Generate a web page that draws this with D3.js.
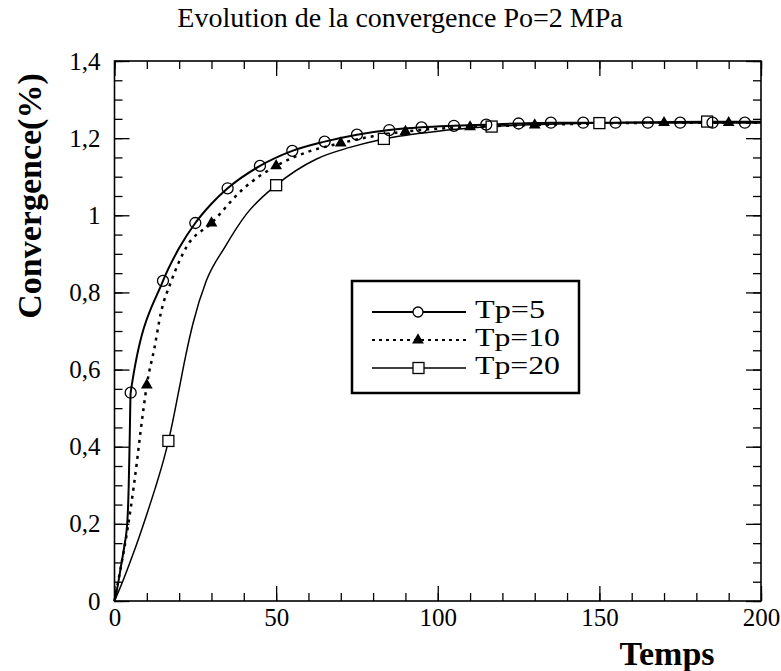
<!DOCTYPE html>
<html>
<head>
<meta charset="utf-8">
<script src="https://cdn.jsdelivr.net/npm/d3@7"></script>
<style>
  html, body { margin: 0; padding: 0; background: #fff; }
  svg text { font-family: "Liberation Serif", "Times New Roman", serif !important; fill: #000; }
</style>
</head>
<body>
<svg id="chart" width="781" height="671"></svg>
<script>
// ---- Data ----
const xTicksMajor = [0, 50, 100, 150, 200];
const yTicksMajor = [0, 0.2, 0.4, 0.6, 0.8, 1, 1.2, 1.4];

// Tp=5 continuous curve and its circle markers
const tp5LineX = [0, 1, 2, 3, 4, 4.4, 4.7, 5, 15, 20, 25, 30, 35, 45, 55, 65, 75, 85, 95, 105, 115, 125, 135, 145, 155, 165, 175, 185, 195, 200];
const tp5LineY = [0, 0.04, 0.09, 0.14, 0.21, 0.3, 0.42, 0.54, 0.83, 0.915, 0.98, 1.03, 1.07, 1.128, 1.167, 1.191, 1.209, 1.221, 1.228, 1.232, 1.235, 1.238, 1.24, 1.24, 1.24, 1.24, 1.24, 1.24, 1.24, 1.24];
const tp5MarkX = [5, 15, 25, 35, 45, 55, 65, 75, 85, 95, 105, 115, 125, 135, 145, 155, 165, 175, 185, 195];
const tp5MarkY = [0.54, 0.83, 0.98, 1.07, 1.128, 1.167, 1.191, 1.209, 1.221, 1.228, 1.232, 1.235, 1.238, 1.24, 1.24, 1.24, 1.24, 1.24, 1.24, 1.24];

// Tp=10 dotted curve and its triangle markers
const tp10LineX = [0, 1, 2, 3, 4, 5, 6, 7, 8, 9, 10, 12.4, 14.3, 17.6, 22.2, 30, 40, 50, 60, 70, 80, 90, 110, 130, 150, 170, 190, 200];
const tp10LineY = [0, 0.045, 0.09, 0.135, 0.185, 0.24, 0.3, 0.365, 0.435, 0.5, 0.56, 0.658, 0.745, 0.83, 0.917, 0.98, 1.07, 1.128, 1.165, 1.187, 1.205, 1.217, 1.229, 1.234, 1.238, 1.24, 1.24, 1.24];
const tp10MarkX = [10, 30, 50, 70, 90, 110, 130, 150, 170, 190];
const tp10MarkY = [0.56, 0.98, 1.128, 1.187, 1.217, 1.229, 1.234, 1.238, 1.24, 1.24];

// Tp=20 continuous curve and its square markers
const tp20LineX = [0, 2.5, 5, 7.5, 10, 12.5, 15, 16.7, 18, 20, 22, 24.3, 28.4, 34.1, 40.8, 50, 62.5, 72.8, 83.3, 100, 116.7, 150, 183.3, 200];
const tp20LineY = [0, 0.05, 0.105, 0.163, 0.225, 0.29, 0.36, 0.415, 0.465, 0.55, 0.635, 0.72, 0.83, 0.917, 1.003, 1.078, 1.146, 1.176, 1.198, 1.218, 1.23, 1.239, 1.243, 1.243];
const tp20MarkX = [16.67, 50, 83.33, 116.67, 150, 183.33];
const tp20MarkY = [0.415, 1.078, 1.198, 1.23, 1.239, 1.243];

const legendLabels = ["Tp=5", "Tp=10", "Tp=20"];

// ---- Chart ----
const svg = d3.select("#chart");
const serif = "'Liberation Serif', 'Times New Roman', serif";
const pLeft = 114.5, pRight = 761, pTop = 61, pBottom = 601;
const x = d3.scaleLinear().domain([0, 200]).range([pLeft, pRight]);
const y = d3.scaleLinear().domain([0, 1.4]).range([pBottom, pTop]);

const zip = (xs, ys) => xs.map((v, i) => [v, ys[i]]);
const fmtY = d => d === 0 ? "0" : (d === 1 ? "1" : d3.format(".1f")(d).replace(".", ","));

// minor and major ticks on all four sides (inward)
function addAxis(axisFn, vals, size, transform, fmt) {
  const g = svg.append("g").attr("transform", transform)
    .call(axisFn.tickValues(vals).tickSizeInner(-size).tickSizeOuter(0).tickPadding(6).tickFormat(fmt || (() => "")));
  g.attr("font-family", serif);
  g.select(".domain").remove();
  g.selectAll(".tick line").attr("stroke", "#000").attr("stroke-width", 1.3);
  g.selectAll("text").style("font-family", serif);
  return g;
}
const xMinor = d3.range(0, 201, 10);
const yMinor = d3.range(0, 1.401, 0.05).map(v => +v.toFixed(2));

addAxis(d3.axisBottom(x), xMinor, 8, `translate(0,${pBottom})`);
const gxb = addAxis(d3.axisBottom(x), xTicksMajor, 15, `translate(0,${pBottom})`, d => String(d));
gxb.selectAll("text").attr("font-size", 25).attr("dy", "0.75em");
addAxis(d3.axisTop(x), xMinor, 8, `translate(0,${pTop})`);
addAxis(d3.axisTop(x), xTicksMajor, 15, `translate(0,${pTop})`);

addAxis(d3.axisLeft(y), yMinor, 8, `translate(${pLeft},0)`);
const gyl = addAxis(d3.axisLeft(y), yTicksMajor, 15, `translate(${pLeft},0)`, fmtY);
gyl.selectAll("text").attr("font-size", 25).attr("x", -14);
addAxis(d3.axisRight(y), yMinor, 8, `translate(${pRight},0)`);
addAxis(d3.axisRight(y), yTicksMajor, 15, `translate(${pRight},0)`);

// frame
svg.append("rect").attr("x", pLeft).attr("y", pTop).attr("width", pRight - pLeft).attr("height", pBottom - pTop)
  .attr("fill", "none").attr("stroke", "#000").attr("stroke-width", 1.6);

// curves
const line = d3.line().x(d => x(d[0])).y(d => y(d[1])).curve(d3.curveMonotoneX);
svg.append("path").datum(zip(tp20LineX, tp20LineY)).attr("d", line)
  .attr("fill", "none").attr("stroke", "#000").attr("stroke-width", 1.5);
svg.append("path").datum(zip(tp10LineX, tp10LineY)).attr("d", line)
  .attr("fill", "none").attr("stroke", "#000").attr("stroke-width", 2.5).attr("stroke-dasharray", "3,5");
svg.append("path").datum(zip(tp5LineX, tp5LineY)).attr("d", line)
  .attr("fill", "none").attr("stroke", "#000").attr("stroke-width", 2);

// markers
const tri = d3.symbol().type(d3.symbolTriangle).size(60);
svg.append("g").selectAll("path").data(zip(tp10MarkX, tp10MarkY)).join("path")
  .attr("transform", d => `translate(${x(d[0])},${y(d[1])})`).attr("d", tri).attr("fill", "#000");
svg.append("g").selectAll("rect").data(zip(tp20MarkX, tp20MarkY)).join("rect")
  .attr("x", d => x(d[0]) - 5.5).attr("y", d => y(d[1]) - 5.5).attr("width", 11).attr("height", 11)
  .attr("fill", "#fff").attr("stroke", "#000").attr("stroke-width", 1.3);
svg.append("g").selectAll("circle").data(zip(tp5MarkX, tp5MarkY)).join("circle")
  .attr("cx", d => x(d[0])).attr("cy", d => y(d[1])).attr("r", 5.5)
  .attr("fill", "none").attr("stroke", "#000").attr("stroke-width", 1.3);

// legend
const lg = svg.append("g");
lg.append("rect").attr("x", 352).attr("y", 281).attr("width", 227).attr("height", 112)
  .attr("fill", "#fff").attr("stroke", "#000").attr("stroke-width", 2.5);
const rowsY = [312, 340, 368];
const labelWidths = [70, 85, 85];
legendLabels.forEach((lab, i) => {
  const yy = rowsY[i];
  const l = lg.append("line").attr("x1", 372).attr("x2", 466).attr("y1", yy).attr("y2", yy).attr("stroke", "#000");
  if (i === 1) l.attr("stroke-width", 2).attr("stroke-dasharray", "3,4");
  else l.attr("stroke-width", i === 0 ? 2 : 1.5);
  if (i === 0) lg.append("circle").attr("cx", 418).attr("cy", yy).attr("r", 5).attr("fill", "#fff").attr("stroke", "#000").attr("stroke-width", 1.3);
  if (i === 1) lg.append("path").attr("transform", `translate(418,${yy})`).attr("d", tri).attr("fill", "#000");
  if (i === 2) lg.append("rect").attr("x", 413).attr("y", yy - 5.5).attr("width", 11).attr("height", 11).attr("fill", "#fff").attr("stroke", "#000").attr("stroke-width", 1.3);
  lg.append("text").attr("x", 475).attr("y", yy + 6).attr("font-size", 26)
    .attr("textLength", labelWidths[i]).attr("lengthAdjust", "spacingAndGlyphs").text(lab);
});

// titles
svg.append("text").attr("x", 400).attr("y", 27).attr("text-anchor", "middle").attr("font-size", 28)
  .text("Evolution de la convergence Po=2 MPa");
svg.append("text").attr("transform", "translate(41,196) rotate(-90)").attr("text-anchor", "middle")
  .attr("font-size", 34).attr("font-weight", "bold").text("Convergence(%)");
svg.append("text").attr("x", 667).attr("y", 665).attr("text-anchor", "middle")
  .attr("font-size", 34).attr("font-weight", "bold").text("Temps");
</script>
</body>
</html>
